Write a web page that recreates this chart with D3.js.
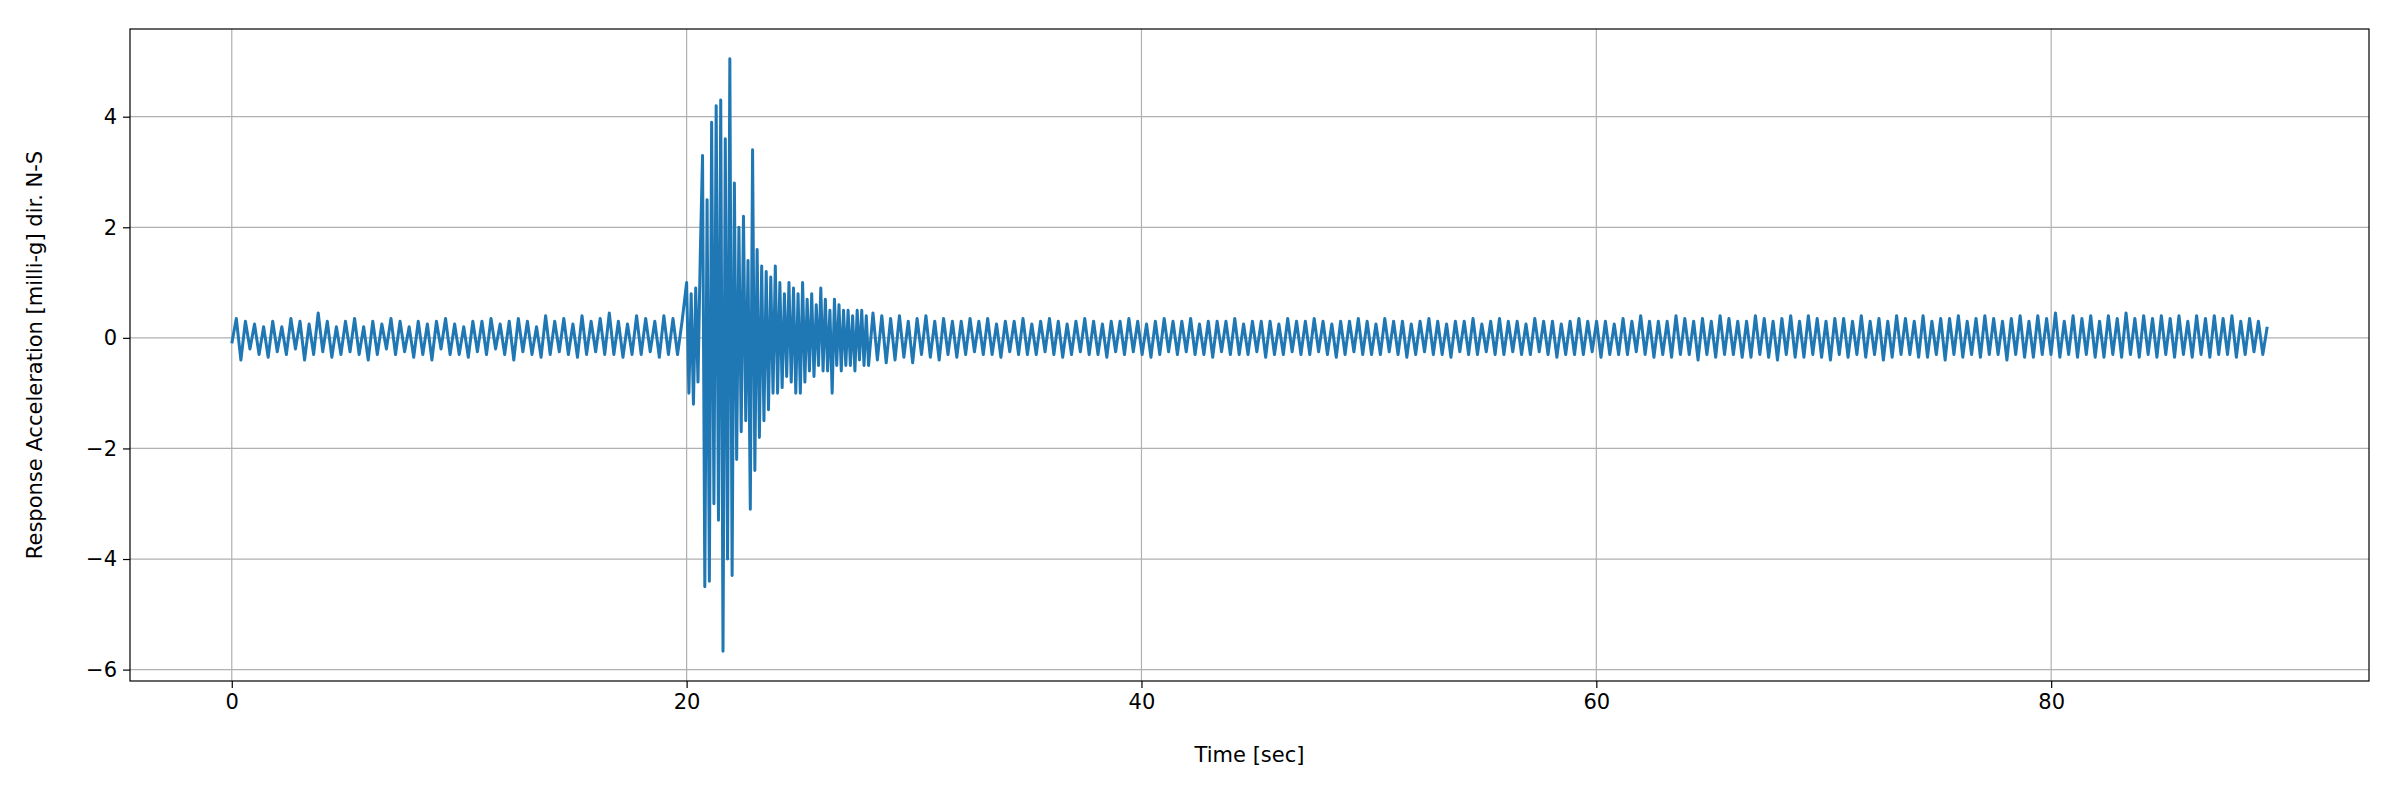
<!DOCTYPE html>
<html><head><meta charset="utf-8">
<script src="https://cdn.jsdelivr.net/npm/d3@7"></script>
<style>body{margin:0;background:#fff}svg{font-family:"DejaVu Sans",sans-serif}</style>
</head><body><svg id="c" width="2400" height="800"></svg>
<script>
// quiet segment 0..20 s
const quietA = [
-0.1,0.35,-0.4,0.3,-0.2,0.25,-0.3,0.2,-0.35,0.3,-0.25,0.2,-0.3,0.35,-0.2,0.3,-0.4,0.25,-0.3,0.45,
-0.25,0.3,-0.35,0.2,-0.3,0.3,-0.25,0.35,-0.3,0.2,-0.4,0.3,-0.3,0.25,-0.2,0.35,-0.3,0.3,-0.25,0.2,
-0.35,0.3,-0.3,0.25,-0.4,0.3,-0.2,0.35,-0.3,0.25,-0.3,0.2,-0.35,0.3,-0.25,0.3,-0.3,0.35,-0.2,0.25,
-0.3,0.3,-0.4,0.35,-0.25,0.3,-0.3,0.2,-0.35,0.4,-0.3,0.3,-0.25,0.35,-0.3,0.25,-0.35,0.4,-0.3,0.3,
-0.25,0.35,-0.3,0.45,-0.3,0.3,-0.35,0.25,-0.3,0.4,-0.3,0.35,-0.25,0.3,-0.35,0.4,-0.3,0.35,-0.3,0.3];
// burst segment 20..28 s, step 0.1 s
const burst = [1.0,-1.0,0.8,-1.2,0.9,-0.8,1.5,3.3,-4.5,2.5,-4.4,3.9,-3.0,4.2,-3.3,4.3,-5.67,3.6,-4.0,5.05,
-4.3,2.8,-2.2,2.0,-1.7,2.2,-1.5,1.4,-3.1,3.4,-2.4,1.6,-1.8,1.3,-1.5,1.2,-1.3,1.1,-1.0,1.3,
-1.0,1.0,-0.9,0.8,-0.7,1.0,-0.8,0.9,-1.0,0.8,-1.0,1.0,-0.8,0.7,-0.6,0.8,-0.7,0.6,-0.5,0.9,
-0.6,0.7,-0.6,0.5,-1.0,0.7,-0.5,0.6,-0.6,0.5,-0.5,0.5,-0.5,0.4,-0.6,0.5,-0.4,0.5,-0.5,0.4];
// quiet segment 28..89.5 s
const quietC = [
-0.5,0.45,-0.4,0.4,-0.45,0.35,-0.4,0.4,-0.35,0.3,-0.45,0.35,-0.3,0.4,-0.35,0.3,-0.4,0.35,-0.3,0.3,
-0.35,0.3,-0.3,0.35,-0.25,0.3,-0.3,0.35,-0.3,0.25,-0.35,0.3,-0.25,0.3,-0.3,0.35,-0.3,0.25,-0.3,0.3,
-0.25,0.35,-0.3,0.3,-0.35,0.25,-0.3,0.3,-0.25,0.35,-0.3,0.3,-0.3,0.25,-0.35,0.3,-0.25,0.3,-0.3,0.35,
-0.25,0.3,-0.3,0.25,-0.35,0.3,-0.3,0.35,-0.25,0.3,-0.3,0.3,-0.25,0.35,-0.3,0.25,-0.3,0.3,-0.35,0.3,
-0.25,0.3,-0.3,0.35,-0.3,0.25,-0.3,0.3,-0.25,0.3,-0.35,0.3,-0.3,0.25,-0.3,0.35,-0.25,0.3,-0.3,0.3,
-0.3,0.35,-0.25,0.3,-0.3,0.25,-0.35,0.3,-0.3,0.3,-0.25,0.35,-0.3,0.3,-0.3,0.25,-0.3,0.35,-0.25,0.3,
-0.3,0.3,-0.35,0.25,-0.3,0.3,-0.25,0.35,-0.3,0.3,-0.3,0.25,-0.35,0.3,-0.25,0.3,-0.3,0.35,-0.3,0.25,
-0.25,0.3,-0.3,0.35,-0.3,0.3,-0.25,0.3,-0.3,0.25,-0.3,0.35,-0.25,0.3,-0.3,0.3,-0.35,0.25,-0.3,0.3,
-0.3,0.35,-0.3,0.3,-0.25,0.3,-0.35,0.3,-0.3,0.25,-0.3,0.35,-0.3,0.3,-0.25,0.4,-0.3,0.3,-0.35,0.3,
-0.3,0.3,-0.35,0.4,-0.3,0.35,-0.3,0.3,-0.4,0.35,-0.3,0.3,-0.35,0.4,-0.3,0.35,-0.3,0.3,-0.35,0.3,
-0.35,0.4,-0.3,0.35,-0.35,0.3,-0.4,0.35,-0.3,0.4,-0.35,0.3,-0.35,0.4,-0.3,0.35,-0.35,0.3,-0.4,0.35,
-0.3,0.35,-0.35,0.3,-0.3,0.4,-0.35,0.3,-0.3,0.35,-0.4,0.3,-0.35,0.4,-0.3,0.35,-0.3,0.3,-0.35,0.4,
-0.35,0.3,-0.3,0.35,-0.4,0.35,-0.3,0.4,-0.35,0.3,-0.3,0.35,-0.35,0.4,-0.3,0.35,-0.3,0.3,-0.4,0.35,
-0.3,0.4,-0.35,0.3,-0.35,0.4,-0.3,0.35,-0.3,0.45,-0.35,0.3,-0.3,0.4,-0.35,0.35,-0.3,0.4,-0.35,0.3,
-0.35,0.4,-0.3,0.35,-0.35,0.45,-0.3,0.35,-0.35,0.4,-0.3,0.35,-0.35,0.4,-0.3,0.35,-0.35,0.4,-0.3,0.3,
-0.35,0.4,-0.3,0.35,-0.35,0.4,-0.3,0.35,-0.3,0.4,-0.35,0.3,-0.3,0.35,-0.25,0.3,-0.3,0.2];
const xTicks = [0,20,40,60,80];
const yTicks = [-6,-4,-2,0,2,4];

const data = [];
quietA.forEach((v,i)=>data.push([i*20/quietA.length,v]));
burst.forEach((v,i)=>data.push([20+i*8/burst.length,v]));
quietC.forEach((v,i)=>data.push([28+i*61.5/(quietC.length-1),v]));

const L=130,R=2369,T=29,B=681;
const svg=d3.select("#c");
const x=d3.scaleLinear().domain([-4.475,93.975]).range([L,R]);
const y=d3.scaleLinear().domain([-6.206,5.586]).range([B,T]);
const grid=svg.append("g");
xTicks.forEach(t=>grid.append("line").attr("x1",x(t)).attr("x2",x(t)).attr("y1",T).attr("y2",B).attr("stroke","#b0b0b0").attr("stroke-width",1.2));
yTicks.forEach(t=>grid.append("line").attr("y1",y(t)).attr("y2",y(t)).attr("x1",L).attr("x2",R).attr("stroke","#b0b0b0").attr("stroke-width",1.2));
svg.append("path").datum(data).attr("fill","none").attr("stroke","#1f77b4").attr("stroke-width",3)
 .attr("stroke-linejoin","round").attr("d",d3.line().x(d=>x(d[0])).y(d=>y(d[1])));
svg.append("rect").attr("x",L).attr("y",T).attr("width",R-L).attr("height",B-T).attr("fill","none").attr("stroke","#000").attr("stroke-width",1.2);
const fmt=d=>d<0?"\u2212"+Math.abs(d):String(d);
const ax=svg.append("g").attr("transform",`translate(0,${B})`).call(d3.axisBottom(x).tickValues(xTicks).tickFormat(fmt).tickSize(7).tickPadding(6));
const ay=svg.append("g").attr("transform",`translate(${L},0)`).call(d3.axisLeft(y).tickValues(yTicks).tickFormat(fmt).tickSize(7).tickPadding(6));
[ax,ay].forEach(a=>{a.select(".domain").remove();a.selectAll("text").attr("font-size",21).attr("fill","#000").attr("font-family","DejaVu Sans");a.selectAll("line").attr("stroke","#000").attr("stroke-width",1.2);});
svg.append("text").attr("x",(L+R)/2).attr("y",762).attr("text-anchor","middle").attr("font-size",21).text("Time [sec]");
svg.append("text").attr("transform",`translate(42,${(T+B)/2}) rotate(-90)`).attr("text-anchor","middle").attr("font-size",21).text("Response Acceleration [milli-g] dir. N-S");
</script></body></html>
